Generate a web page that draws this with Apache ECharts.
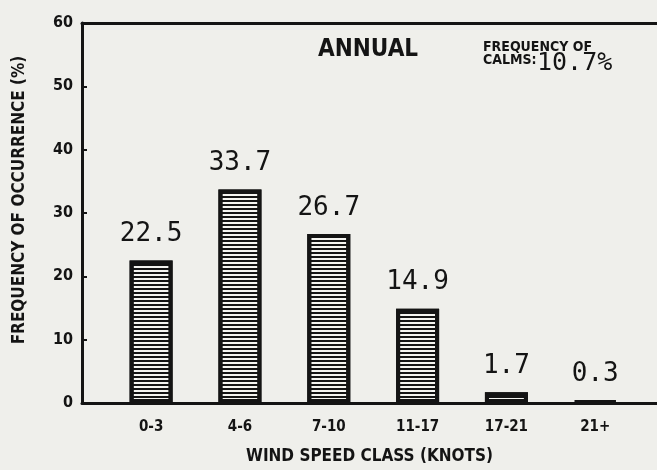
<!DOCTYPE html>
<html>
<head>
<meta charset="utf-8">
<script src="https://cdn.jsdelivr.net/npm/echarts@6/dist/echarts.min.js"></script>
<style>
  html, body { margin: 0; padding: 0; background: #efefeb; }
  #chart { width: 657px; height: 470px; }
</style>
</head>
<body>
<div id="chart"></div>
<script>
// Wind speed classes (knots) and their annual frequency of occurrence (%)
const speedClasses = ['0-3', '4-6', '7-10', '11-17', '17-21', '21+'];
const frequencies = [22.5, 33.7, 26.7, 14.9, 1.7, 0.3];
const yTicks = [0, 10, 20, 30, 40, 50, 60];
const calmsPct = 10.7;

const ink = '#141414';
const narrow = "'DejaVu Sans Condensed', 'DejaVu Sans', sans-serif";
const mono = "'DejaVu Sans Mono', monospace";

const chart = echarts.init(document.getElementById('chart'));

chart.setOption({
  backgroundColor: '#efefeb',
  animation: false,
  title: [
    {
      text: 'ANNUAL', left: 313, top: 33,
      textStyle: { fontFamily: narrow, fontWeight: 'bold', fontSize: 24, color: ink }
    },
    {
      text: 'FREQUENCY OF\nCALMS:', left: 478, top: 36,
      textStyle: { fontFamily: narrow, fontWeight: 'bold', fontSize: 14, lineHeight: 13, color: ink }
    },
    {
      text: calmsPct.toFixed(1) + '%', left: 532, top: 46,
      textStyle: { fontFamily: mono, fontWeight: 'normal', fontSize: 25, color: ink }
    }
  ],
  grid: { left: 82, right: 0, top: 23, bottom: 67 },
  xAxis: [
    {
      type: 'value',
      min: -0.778, max: 5.695,
      position: 'bottom',
      name: 'WIND SPEED CLASS (KNOTS)',
      nameLocation: 'middle',
      nameGap: 45,
      nameTextStyle: { fontFamily: narrow, fontWeight: 'bold', fontSize: 17, color: ink },
      axisLine: { show: true, onZero: false, lineStyle: { color: ink, width: 3 } },
      axisTick: { show: false },
      splitLine: { show: false },
      axisLabel: {
        customValues: speedClasses.map((_, i) => i),
        formatter: v => speedClasses[Math.round(v)] || '',
        margin: 17,
        fontFamily: narrow, fontWeight: 'bold', fontSize: 15, color: ink
      }
    },
    {
      type: 'value',
      min: -0.778, max: 5.695,
      position: 'top',
      axisLine: { show: true, onZero: false, lineStyle: { color: ink, width: 3 } },
      axisTick: { show: false },
      axisLabel: { show: false },
      splitLine: { show: false }
    }
  ],
  yAxis: {
    type: 'value',
    min: 0, max: 60, interval: 10,
    name: 'FREQUENCY OF OCCURRENCE (%)',
    nameLocation: 'middle',
    nameGap: 54,
    nameTextStyle: { fontFamily: narrow, fontWeight: 'bold', fontSize: 17, color: ink, padding: [0, 0, 0, 26] },
    axisLine: { show: true, onZero: false, lineStyle: { color: ink, width: 3 } },
    axisTick: { show: true, inside: true, length: 5, lineStyle: { color: ink, width: 2 } },
    splitLine: { show: false },
    axisLabel: {
      margin: 9,
      formatter: v => (yTicks.indexOf(v) >= 0 ? String(v) : ''),
      fontFamily: narrow, fontWeight: 'bold', fontSize: 16, color: ink
    }
  },
  series: [
    {
      type: 'bar',
      xAxisIndex: 0,
      barWidth: 43,
      data: frequencies.map((v, i) => [i, v]),
      itemStyle: {
        color: '#f4f4f0',
        borderColor: ink,
        borderWidth: 4,
        decal: {
          symbol: 'rect',
          symbolSize: 1,
          dashArrayX: [8, 0],
          dashArrayY: [2, 2],
          color: ink,
          rotation: 0
        }
      },
      label: {
        show: true,
        position: 'top',
        distance: 13,
        formatter: p => p.value[1].toFixed(1),
        fontFamily: mono, fontSize: 26, color: ink
      }
    }
  ]
});
</script>
</body>
</html>
